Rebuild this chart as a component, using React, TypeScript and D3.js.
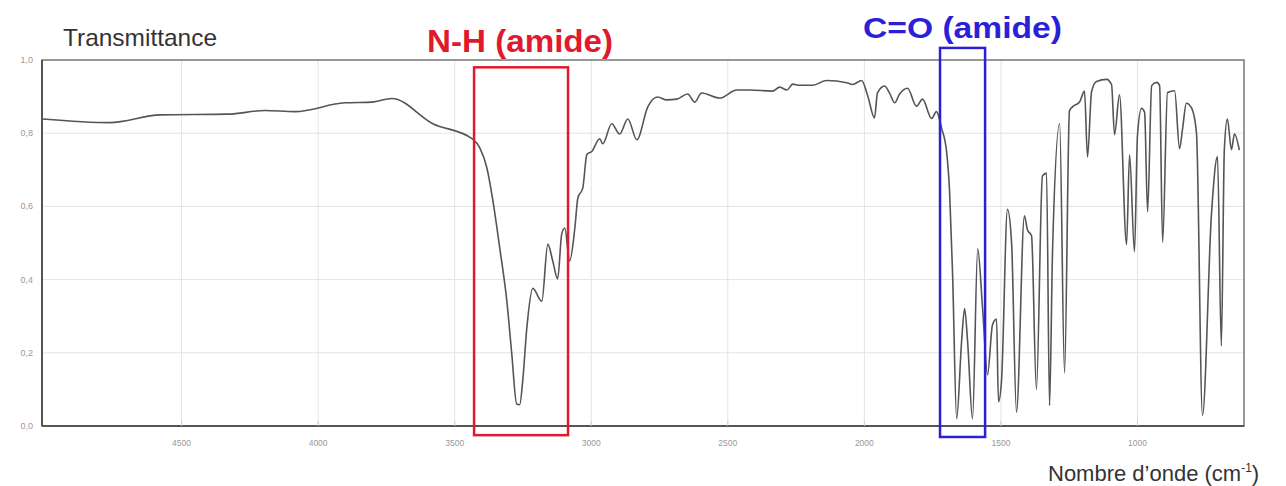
import React from "react";
import * as d3 from "d3";

// spectre IR
const wavenumbers = [
  5010, 4762, 4579, 4330, 4195, 4085, 3902, 3803, 3730, 3580, 3434, 3408, 3382, 3360, 3335, 3309,
  3291, 3273, 3262, 3251, 3236, 3214, 3181, 3159, 3141, 3123, 3108, 3097, 3079, 3060, 3049, 3031,
  3016, 2998, 2969, 2958, 2925, 2896, 2866, 2833, 2793, 2757, 2724, 2687, 2647, 2621, 2596, 2530,
  2467, 2420, 2336, 2310, 2284, 2262, 2237, 2189, 2138, 2065, 2043, 2010, 1988, 1963, 1952, 1926,
  1908, 1889, 1871, 1842, 1809, 1787, 1754, 1736, 1717, 1699, 1688, 1677, 1662, 1644, 1633, 1622,
  1604, 1585, 1567, 1549, 1531, 1516, 1509, 1498, 1476, 1461, 1443, 1414, 1403, 1388, 1370, 1348,
  1333, 1322, 1311, 1285, 1267, 1249, 1238, 1212, 1194, 1183, 1168, 1150, 1113, 1095, 1084, 1066,
  1040, 1029, 1011, 1000, 985, 974, 963, 948, 930, 919, 908, 890, 864, 846, 835, 821,
  802, 784, 762, 729, 707, 693, 682, 671, 656, 645, 627,
];
const transmittance = [
  0.839, 0.829, 0.85, 0.852, 0.862, 0.859, 0.883, 0.885, 0.895, 0.826, 0.784, 0.76, 0.705, 0.615, 0.486, 0.341,
  0.197, 0.06, 0.058, 0.122, 0.267, 0.376, 0.341, 0.497, 0.451, 0.402, 0.525, 0.541, 0.451, 0.541, 0.623, 0.65,
  0.742, 0.75, 0.785, 0.771, 0.826, 0.798, 0.839, 0.782, 0.872, 0.899, 0.891, 0.893, 0.907, 0.885, 0.91, 0.896,
  0.918, 0.918, 0.915, 0.926, 0.918, 0.934, 0.931, 0.931, 0.944, 0.938, 0.933, 0.944, 0.903, 0.842, 0.91, 0.929,
  0.91, 0.883, 0.907, 0.923, 0.874, 0.893, 0.84, 0.859, 0.813, 0.75, 0.641, 0.415, 0.02, 0.231, 0.321, 0.231,
  0.02, 0.484, 0.32, 0.14, 0.276, 0.292, 0.066, 0.121, 0.592, 0.501, 0.038, 0.574, 0.536, 0.52, 0.1, 0.683,
  0.691, 0.056, 0.48, 0.826, 0.145, 0.861, 0.872, 0.885, 0.915, 0.735, 0.914, 0.941, 0.947, 0.933, 0.796, 0.905,
  0.496, 0.741, 0.476, 0.795, 0.868, 0.857, 0.585, 0.93, 0.939, 0.93, 0.502, 0.911, 0.916, 0.758, 0.812, 0.882,
  0.869, 0.801, 0.029, 0.581, 0.736, 0.219, 0.755, 0.839, 0.755, 0.798, 0.754,
];

const xTicks = [4500, 4000, 3500, 3000, 2500, 2000, 1500, 1000];
const yTicks = [0, 0.2, 0.4, 0.6, 0.8, 1.0];
const yTickLabels = ["0,0", "0,2", "0,4", "0,6", "0,8", "1,0"];

// zones encadrées : [nombre d'onde debut, fin], [T bas, T haut]
const boxLabels = ["N-H (amide)", "C=O (amide)"];
const boxColors = ["#e01a2e", "#2b1fd8"];
const boxWn = [[3429, 3085], [1723, 1558]];
const boxT = [[-0.025, 0.98], [-0.03, 1.033]];
const labelWn = [3601, 2005];
const labelY = [52, 38];
const labelSize = [32, 29];
const labelLen = [186, 199];

export default function App() {
  const width = 1286;
  const height = 486;
  const left = 42, right = 1244, top = 60, bottom = 426;

  const x = d3.scaleLinear().domain([5011, 610]).range([left, right]);
  const y = d3.scaleLinear().domain([0, 1]).range([bottom, top]);

  const pts: [number, number][] = wavenumbers.map((w, i) => [w, transmittance[i]]);
  const line = d3.line<[number, number]>()
    .x(d => x(d[0]))
    .y(d => y(d[1]))
    .curve(d3.curveMonotoneX);

  const font = "Liberation Sans, Arial, sans-serif";

  return (
    <svg width={width} height={height} style={{ position: "absolute", left: 0, top: 0, background: "#fff" }}
      fontFamily={font}>
      <rect x={0} y={0} width={width} height={height} fill="#fff" />
      {xTicks.map(t => (
        <line key={"gx" + t} x1={x(t)} x2={x(t)} y1={top} y2={bottom} stroke="#e4e4e4" strokeWidth={1} />
      ))}
      {yTicks.slice(1, -1).map(t => (
        <line key={"gy" + t} x1={left} x2={right} y1={y(t)} y2={y(t)} stroke="#e4e4e4" strokeWidth={1} />
      ))}
      <rect x={left} y={top} width={right - left} height={bottom - top} fill="none" stroke="#777" strokeWidth={1.5} />
      <line x1={left} x2={left} y1={top} y2={bottom} stroke="#555" strokeWidth={2} />
      <line x1={left} x2={right} y1={bottom} y2={bottom} stroke="#555" strokeWidth={2} />

      {yTicks.map((t, i) => (
        <text key={"ty" + t} x={left - 9} y={y(t) + 3} fontSize={9} fill="#999" textAnchor="end">{yTickLabels[i]}</text>
      ))}
      {xTicks.map(t => (
        <g key={"tx" + t}>
          <line x1={x(t)} x2={x(t)} y1={bottom} y2={bottom - 5} stroke="#ccc" />
          <text x={x(t)} y={bottom + 20} fontSize={8.5} fill="#999" textAnchor="middle">{t}</text>
        </g>
      ))}

      <path d={line(pts) || ""} fill="none" stroke="#555" strokeWidth={1.6} strokeLinejoin="round" />

      {boxLabels.map((lab, i) => (
        <g key={lab}>
          <rect x={x(boxWn[i][0])} y={y(boxT[i][1])} width={x(boxWn[i][1]) - x(boxWn[i][0])}
            height={y(boxT[i][0]) - y(boxT[i][1])} fill="none" stroke={boxColors[i]} strokeWidth={2.5} />
          <text x={x(labelWn[i])} y={labelY[i]} fontSize={labelSize[i]} fontWeight="bold" fill={boxColors[i]}
            textLength={labelLen[i]} lengthAdjust="spacingAndGlyphs">{lab}</text>
        </g>
      ))}

      <text x={63} y={46} fontSize={24} fill="#333" textLength={154} lengthAdjust="spacingAndGlyphs">Transmittance</text>
      <text x={1048} y={481} fontSize={22} fill="#333">
        Nombre d’onde (cm<tspan dy={-9} fontSize={12}>-1</tspan><tspan dy={9}>)</tspan>
      </text>
    </svg>
  );
}
